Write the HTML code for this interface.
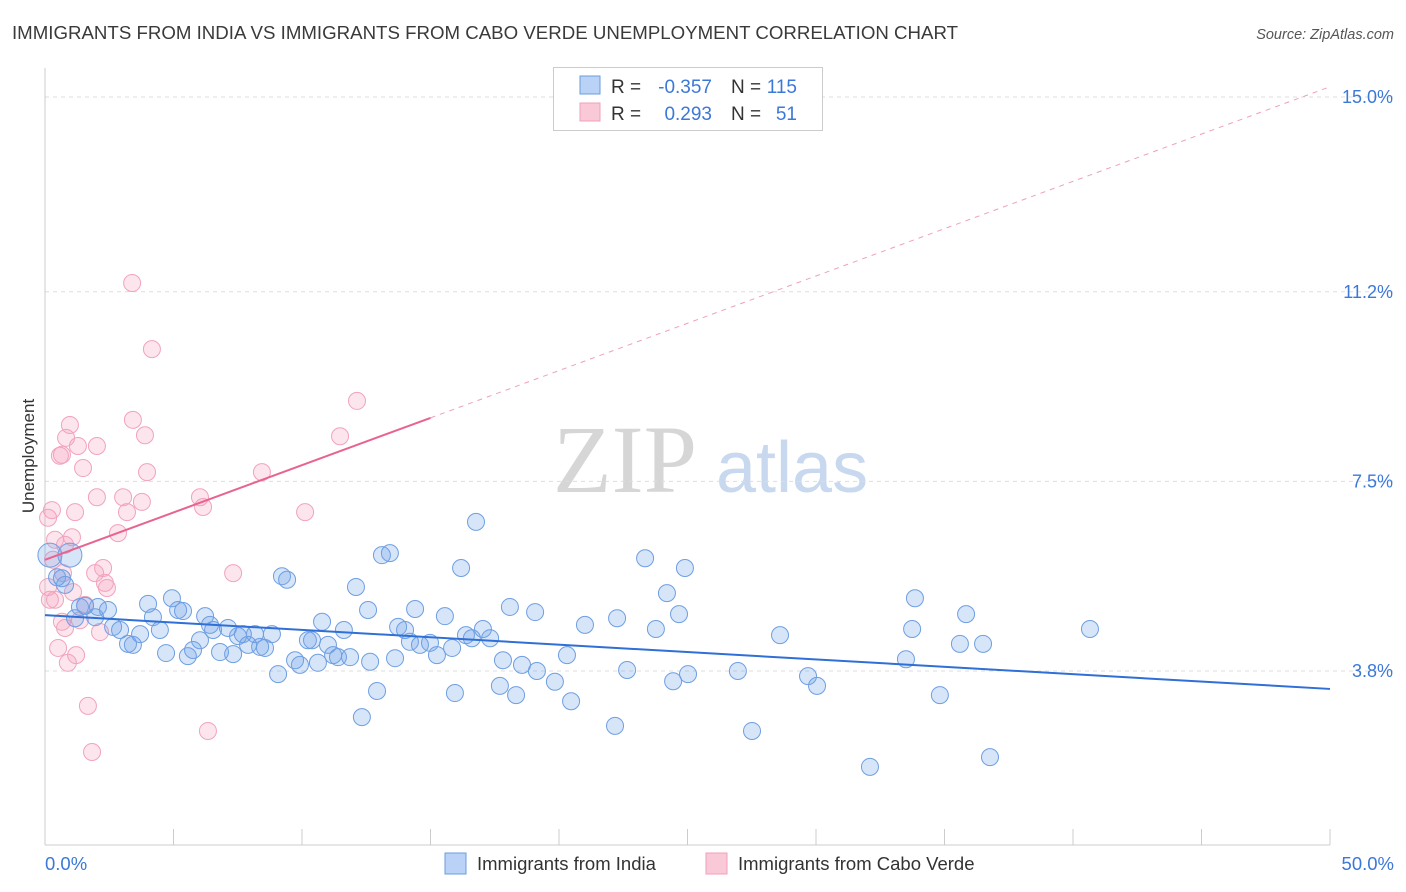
<!DOCTYPE html>
<html><head><meta charset="utf-8"><style>
body{margin:0;background:#fff;font-family:"Liberation Sans",sans-serif;}
svg{display:block}
</style></head><body>
<svg id="chart" width="1406" height="892" xmlns="http://www.w3.org/2000/svg">
<text x="12" y="39" font-size="18.5" fill="#3a3a3a" textLength="946" lengthAdjust="spacingAndGlyphs">IMMIGRANTS FROM INDIA VS IMMIGRANTS FROM CABO VERDE UNEMPLOYMENT CORRELATION CHART</text>
<text x="1394" y="39" font-size="14.5" fill="#555" text-anchor="end" font-style="italic">Source: ZipAtlas.com</text>
<g>
<text x="553" y="492" font-family="Liberation Serif,serif" font-size="96" fill="#d6d6d6">ZIP</text>
<text x="716" y="492" font-size="72" fill="#c8d8ee">atlas</text>
</g>
<text transform="translate(34,456) rotate(-90)" font-size="17" fill="#333" text-anchor="middle">Unemployment</text>
<g id="grid"></g>
<g id="axes"></g>
<g id="points"></g>
<g id="trends"></g>
<g font-size="19">
<rect x="553.5" y="67.5" width="269" height="63" fill="#fff" stroke="#ccc"/>
<rect x="580" y="76" width="20" height="18" fill="#b9d2f5" stroke="#6a9de0"/>
<rect x="580" y="103" width="20" height="18" fill="#fac9d8" stroke="#f0a0bb"/>
<text x="611" y="93" fill="#333">R =</text>
<text x="712" y="93" fill="#3b78d8" text-anchor="end">-0.357</text>
<text x="731" y="93" fill="#333">N =</text>
<text x="797" y="93" fill="#3b78d8" text-anchor="end">115</text>
<text x="611" y="120" fill="#333">R =</text>
<text x="712" y="120" fill="#3b78d8" text-anchor="end">0.293</text>
<text x="731" y="120" fill="#333">N =</text>
<text x="797" y="120" fill="#3b78d8" text-anchor="end">51</text>
</g>
<g>
<rect x="445" y="853" width="21" height="21" fill="#b9d2f5" stroke="#6a9de0"/>
<text x="477" y="870" font-size="18.5" fill="#333">Immigrants from India</text>
<rect x="706" y="853" width="21" height="21" fill="#fac9d8" stroke="#f0a0bb"/>
<text x="738" y="870" font-size="18.5" fill="#333">Immigrants from Cabo Verde</text>
</g>
</svg>
<script>
const yTicks=[3.8,7.5,11.2,15.0];
const yTickLabels=["3.8%","7.5%","11.2%","15.0%"];
const xTickLabels=["0.0%","50.0%"];
const indiaX=[0.19,0.97,0.47,0.66,0.78,1.17,1.36,1.56,1.95,2.06,2.45,2.65,2.92,3.23,3.42,3.70,4.01,4.20,4.47,4.71,4.94,5.18,5.37,5.56,5.76,6.03,6.23,6.42,6.54,6.81,7.12,7.32,7.51,7.70,7.90,8.17,8.37,8.56,8.83,9.07,9.22,9.42,9.73,9.92,10.23,10.39,10.62,10.78,11.01,11.21,11.40,11.63,11.87,12.10,12.33,12.57,12.65,12.92,13.11,13.42,13.62,13.74,14.01,14.20,14.40,14.59,14.98,15.25,15.56,15.84,15.95,16.19,16.38,16.61,16.77,17.04,17.32,17.82,17.70,18.09,18.33,18.56,19.07,19.14,19.84,20.31,20.47,21.01,22.18,22.26,22.65,23.35,23.77,24.20,24.44,24.67,24.90,25.02,26.96,27.51,28.60,29.69,30.04,32.10,33.50,33.74,33.85,34.82,35.60,35.84,36.50,36.77,40.66];
const indiaY=[6.06,6.06,5.63,5.61,5.48,4.83,5.05,5.07,4.85,5.05,4.99,4.66,4.60,4.33,4.31,4.52,5.11,4.85,4.60,4.15,5.22,4.99,4.97,4.09,4.21,4.40,4.87,4.70,4.60,4.17,4.64,4.13,4.48,4.52,4.31,4.52,4.27,4.25,4.52,3.74,5.65,5.58,4.01,3.92,4.40,4.40,3.96,4.76,4.31,4.11,4.07,4.60,4.07,5.44,2.90,4.99,3.98,3.41,6.06,6.10,4.05,4.66,4.60,4.37,5.01,4.31,4.35,4.11,4.87,4.25,3.37,5.81,4.50,4.44,6.71,4.62,4.44,4.01,3.51,5.05,3.33,3.92,4.95,3.80,3.59,4.11,3.21,4.70,2.73,4.83,3.82,6.00,4.62,5.32,3.60,4.91,5.81,3.74,3.80,2.63,4.50,3.70,3.51,1.93,4.03,4.62,5.22,3.33,4.33,4.91,4.33,2.12,4.62];
const caboX=[0.12,0.27,0.19,0.12,0.31,0.39,0.51,0.58,0.66,0.70,0.78,0.82,0.89,0.97,1.05,1.09,1.17,1.21,1.28,1.36,1.48,1.67,1.83,1.95,2.02,2.02,2.14,2.26,2.33,2.41,2.84,3.04,3.19,3.39,3.42,3.77,3.89,3.97,4.16,6.03,6.15,6.34,7.32,8.44,10.12,11.48,12.14,0.78,1.56,0.39,0.66];
const caboY=[6.79,6.94,5.19,5.44,5.97,6.36,4.25,8.00,8.02,5.71,4.64,8.35,3.96,8.60,6.41,5.34,6.90,4.11,8.19,4.79,7.76,3.12,2.22,5.71,8.19,7.19,4.56,5.81,5.52,5.42,6.49,7.19,6.90,11.37,8.70,7.10,8.40,7.68,10.08,7.19,7.00,2.63,5.71,7.68,6.90,8.38,9.07,6.26,5.09,5.19,4.76];
const indiaTrend=[4.89,3.45];
const caboTrend=[5.97,15.2];
const caboSolidEnd=15;

const NS="http://www.w3.org/2000/svg";
const X=v=>45+v/50*1285;
const Y=v=>97+(15-v)*51.25;
function mk(tag,attrs,parent){const e=document.createElementNS(NS,tag);for(const k in attrs)e.setAttribute(k,attrs[k]);parent.appendChild(e);return e;}
const grid=document.getElementById('grid'),axes=document.getElementById('axes'),pts=document.getElementById('points'),tr=document.getElementById('trends');
yTicks.forEach((t,i)=>{
 const l=mk('line',{x1:45,x2:1395,y1:Y(t),y2:Y(t),stroke:'#ddd','stroke-dasharray':'4,4'},grid);
 
 
 const tx=mk('text',{x:1393,y:Y(t)+6,'font-size':18,fill:'#3b78d8','text-anchor':'end'},axes);
 tx.textContent=yTickLabels[i];
 
 
});
const ax=mk('line',{x1:45,x2:45,y1:68,y2:845,stroke:'#ccc'},axes);


const bx=mk('line',{x1:45,x2:1330,y1:845,y2:845,stroke:'#ccc'},axes);


for(let i=0;i<=10;i++){
 const t=mk('line',{x1:X(i*5),x2:X(i*5),y1:829,y2:845,stroke:'#ccc'},axes);
 
 
}
[[0,'start',45],[50,'end',1394]].forEach((d,i)=>{
 const t=mk('text',{x:d[2],y:870,'font-size':18.5,fill:'#3b78d8','text-anchor':d[1]},axes);
 t.textContent=xTickLabels[i];
 
 
});
caboX.forEach((x,i)=>{
 const c=mk('circle',{cx:X(x),cy:Y(caboY[i]),r:8.5,fill:'rgba(244,160,190,0.28)',stroke:'#f2a3bd','stroke-width':1},pts);
 
 
});
indiaX.forEach((x,i)=>{
 const c=mk('circle',{cx:X(x),cy:Y(indiaY[i]),r:(i<2?12:8.5),fill:'rgba(110,160,235,0.28)',stroke:'#6e9fe2','stroke-width':1},pts);
 
 
});
const cy=x=>caboTrend[0]+(caboTrend[1]-caboTrend[0])*x/50;
const l1=mk('line',{x1:X(0),y1:Y(indiaTrend[0]),x2:X(50),y2:Y(indiaTrend[1]),stroke:'#2f6fd6','stroke-width':2},tr);


const l2=mk('line',{x1:X(0),y1:Y(cy(0)),x2:X(caboSolidEnd),y2:Y(cy(caboSolidEnd)),stroke:'#e8638e','stroke-width':2},tr);


const l3=mk('line',{x1:X(caboSolidEnd),y1:Y(cy(caboSolidEnd)),x2:X(50),y2:Y(cy(50)),stroke:'#eea0b8','stroke-width':1,'stroke-dasharray':'5,5'},tr);


</script>
</body></html>
